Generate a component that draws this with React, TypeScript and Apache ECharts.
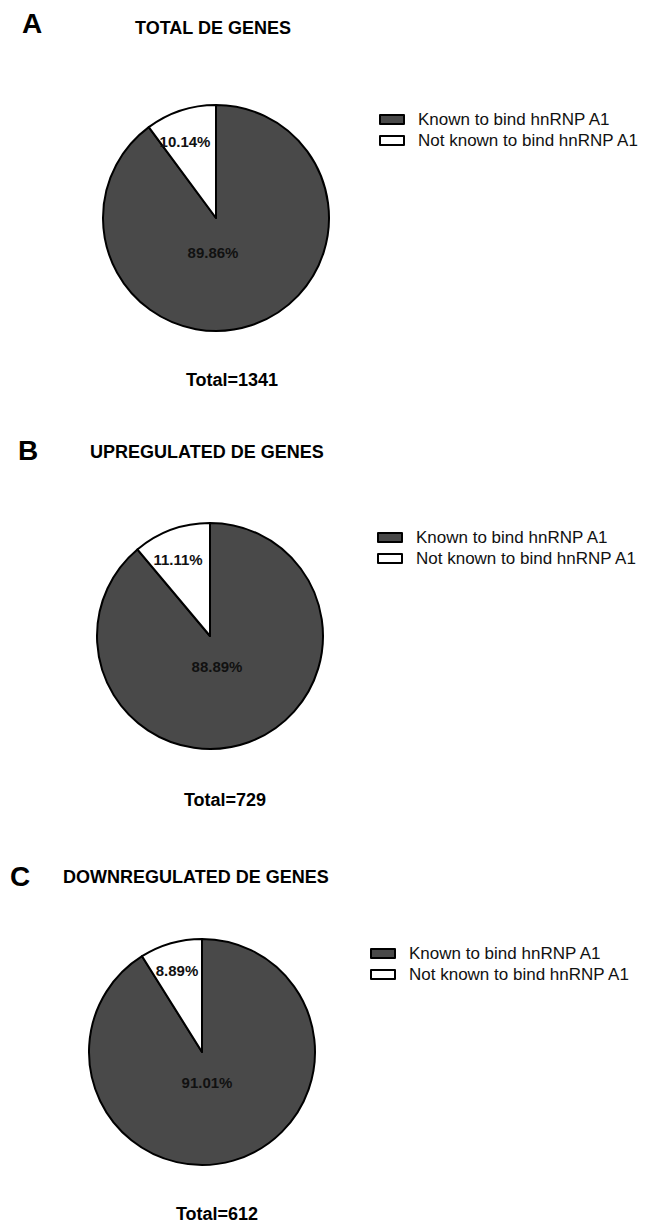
import React, { useEffect, useRef } from "react";
import * as echarts from "echarts";

const categories = ["Known to bind hnRNP A1", "Not known to bind hnRNP A1"];
const letters = ["A", "B", "C"];
const titles = ["TOTAL DE GENES", "UPREGULATED DE GENES", "DOWNREGULATED DE GENES"];
const totals = ["Total=1341", "Total=729", "Total=612"];
const valuesA = [89.86, 10.14];
const valuesB = [88.89, 11.11];
const valuesC = [91.01, 8.89];
const panelValues = [valuesA, valuesB, valuesC];

const sliceColors = ["#494949", "#ffffff"];
const FONT = "'Liberation Sans', Arial, Helvetica, sans-serif";

// layout (pixels)
const layout = [
  { cx: 216, cy: 218, letter: [22, 23], title: [135, 28], total: [232, 380], legend: [374, 106], lab: [[-3, 34], [-31, -77]] },
  { cx: 210, cy: 636, letter: [18, 450], title: [90, 452], total: [225, 800], legend: [372, 524], lab: [[7, 30], [-32, -77]] },
  { cx: 202, cy: 1052, letter: [10, 876], title: [63, 877], total: [217, 1214], legend: [365, 940], lab: [[5, 30], [-25, -82]] },
];
const RADIUS = 113;

export default function App() {
  const ref = useRef<HTMLDivElement>(null);
  useEffect(() => {
    document.body.style.margin = "0";
    if (!ref.current) return;
    const chart = echarts.init(ref.current, null, { renderer: "svg" });

    const series = panelValues.map((vals, i) => {
      const L = layout[i];
      return {
        type: "pie",
        name: titles[i],
        center: [L.cx, L.cy],
        radius: [0, RADIUS],
        startAngle: 90,
        clockwise: true,
        silent: true,
        data: vals.map((v, j) => ({
          name: categories[j],
          value: v,
          itemStyle: { color: sliceColors[j], borderColor: "#000", borderWidth: 2 },
        })),
        label: {
          show: true,
          position: "inside",
          formatter: "{c}%",
          color: "#111",
          fontFamily: FONT,
          fontWeight: "bold",
          fontSize: 15,
        },
        labelLine: { show: false },
        labelLayout: (p: any) => {
          const o = L.lab[p.dataIndex];
          return { x: L.cx + o[0], y: L.cy + o[1], align: "center", verticalAlign: "middle" };
        },
        emphasis: { disabled: true },
      };
    });

    const legends = layout.map((L) => ({
      orient: "vertical",
      left: L.legend[0],
      top: L.legend[1],
      data: categories,
      icon: "rect",
      itemWidth: 24,
      itemHeight: 9,
      itemGap: 4,
      selectedMode: false,
      textStyle: {
        fontFamily: FONT,
        fontSize: 17,
        lineHeight: 17,
        color: "#111",
        padding: [0, 0, 0, 9],
      },
    }));

    const graphics: any[] = [];
    layout.forEach((L, i) => {
      graphics.push({
        type: "text",
        x: L.letter[0],
        y: L.letter[1],
        style: { text: letters[i], font: `bold 28px ${FONT}`, fill: "#000", verticalAlign: "middle", align: "left" },
      });
      graphics.push({
        type: "text",
        x: L.title[0],
        y: L.title[1],
        style: { text: titles[i], font: `bold 18px ${FONT}`, fill: "#000", verticalAlign: "middle", align: "left" },
      });
      graphics.push({
        type: "text",
        x: L.total[0],
        y: L.total[1],
        style: { text: totals[i], font: `bold 18px ${FONT}`, fill: "#000", verticalAlign: "middle", align: "center" },
      });
    });

    chart.setOption({
      animation: false,
      backgroundColor: "#ffffff",
      legend: legends,
      series,
      graphic: graphics,
    });
    return () => chart.dispose();
  }, []);
  return <div ref={ref} style={{ width: 645, height: 1223 }} />;
}
